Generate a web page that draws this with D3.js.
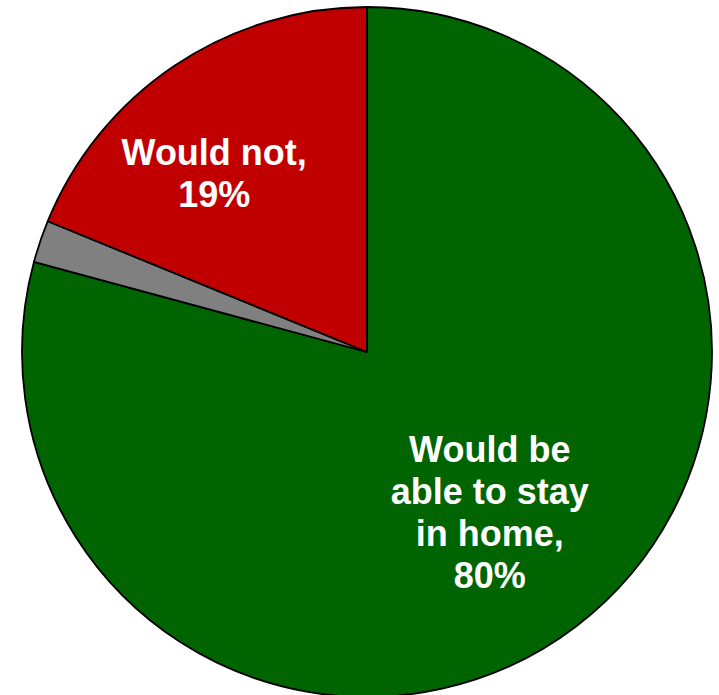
<!DOCTYPE html>
<html>
<head>
<meta charset="utf-8">
<script src="https://cdn.jsdelivr.net/npm/d3@7"></script>
<style>
  html, body { margin: 0; padding: 0; background: #fff; }
  svg { display: block; }
  .label { font-family: Helvetica, Arial, "Liberation Sans", sans-serif; font-weight: bold; fill: #fff; }
</style>
</head>
<body>
<svg id="pie"></svg>
<script>
/* global d3 */

// data (clockwise from 12 o'clock)
var categories = ['Would be able to stay in home', 'Don\'t know', 'Would not']
var values = [80, 2, 19]
var labelLines = [
  ['Would be', 'able to stay', 'in home,', '80%'],
  [],
  ['Would not,', '19%']
]
var colors = ['#006400', '#808080', '#c00000']

var width = 719
var height = 695
var cx = 367
var cy = 352
var radius = 345
var fontSize = 36
var lineHeight = 42

// where each label sits: distance from centre and angle shift from mid-slice
var labelRadius = [202, 0, 235]
var labelShift = [0, 0, -6.7 * Math.PI / 180]

var svg = d3.select('#pie')
    .attr('width', width)
    .attr('height', height)

var g = svg.append('g')
    .attr('transform', 'translate(' + cx + ',' + cy + ')')

var pie = d3.pie().sort(null).value(d => d)
var arcs = pie(values)

var arc = d3.arc().innerRadius(0).outerRadius(radius)

g.selectAll('.slice')
    .data(arcs)
  .enter().append('path')
    .attr('class', 'slice')
    .attr('d', arc)
    .attr('fill', (d, i) => colors[i])
    .attr('stroke', '#000')
    .attr('stroke-width', 1.8)
    .attr('stroke-linejoin', 'round')

var labels = g.selectAll('.label')
    .data(arcs)
  .enter().append('text')
    .attr('class', 'label')
    .attr('text-anchor', 'middle')
    .style('font-size', fontSize + 'px')
    .attr('transform', (d, i) => {
      var a = (d.startAngle + d.endAngle) / 2 + labelShift[i]
      var r = labelRadius[i]
      return 'translate(' + (r * Math.sin(a)) + ',' + (-r * Math.cos(a)) + ')'
    })

labels.each(function (d, i) {
  var lines = labelLines[i]
  var n = lines.length
  d3.select(this).selectAll('tspan')
      .data(lines)
    .enter().append('tspan')
      .attr('x', 0)
      .attr('y', (t, j) => (j - (n - 1) / 2) * lineHeight + fontSize * 0.358)
      .text(t => t)
})
</script>
</body>
</html>
